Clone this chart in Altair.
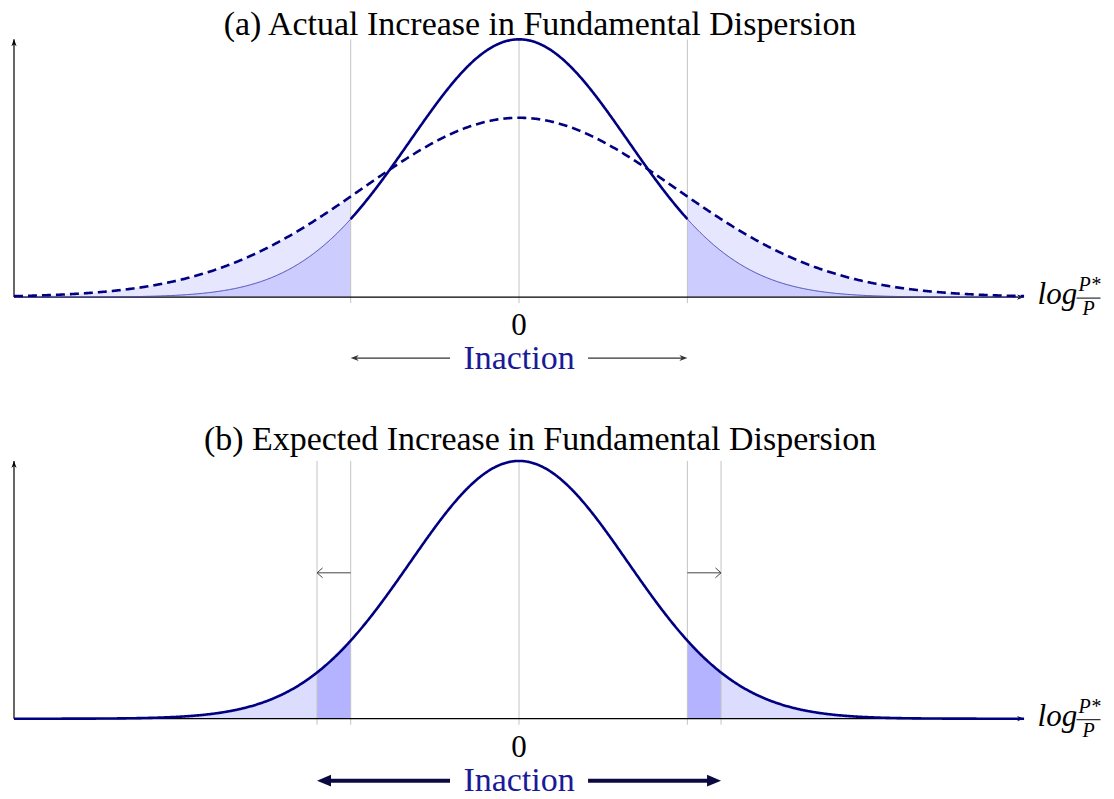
import altair as alt
import numpy as np
import pandas as pd

# ---------------- values ----------------
title_a = "(a) Actual Increase in Fundamental Dispersion"
title_b = "(b) Expected Increase in Fundamental Dispersion"
zero_label = "0"
inaction_label = "Inaction"
log_label = "log"
frac_top = "P*"
frac_bottom = "P"

x_range = [-3.0, 3.0]          # horizontal extent of the densities (band edge = 1)
sd_solid = 0.647               # narrow density (solid)
sd_dashed = 0.93               # wide density (dashed, panel a)
n_grid = 1201

band_a = [-1.0, 1.0]           # inaction band, panel (a)
band_b_old = [-1.0, 1.0]       # old band, panel (b)
band_b_new = [-1.2, 1.2]       # widened band, panel (b)
zero_line = [0.0]

inaction_start = [-0.41, 0.41]
inaction_end_a = [-1.0, 1.0]
inaction_end_b = [-1.2, 1.2]
shift_start_b = [-1.0, 1.0]
shift_end_b = [-1.2, 1.2]
shift_level_b = 0.566

# ---------------- layout ----------------
W = 1096
PXU = 168.5           # px per x unit
YU = 258.0            # px per y unit (solid peak = 1)
umin = x_range[0] - 3 / PXU
umax = umin + W / PXU
xscale = alt.Scale(domain=[umin, umax], nice=False, zero=False)

Ha, axis_a = 372, 288
Hb, axis_b = 411, 338
yscale_a = alt.Scale(domain=[(axis_a - Ha) / YU, axis_a / YU], nice=False, zero=False)
yscale_b = alt.Scale(domain=[(axis_b - Hb) / YU, axis_b / YU], nice=False, zero=False)

NAVY = "#000080"
SERIF = "Liberation Serif, Times New Roman, DejaVu Serif, serif"

xs = np.linspace(x_range[0], x_range[1], n_grid)
dens = pd.DataFrame({
    "x": xs,
    "solid": np.exp(-0.5 * (xs / sd_solid) ** 2),
    "dashed": (sd_solid / sd_dashed) * np.exp(-0.5 * (xs / sd_dashed) ** 2),
})
dens["base"] = 0.0
dens["side"] = np.where(dens.x < 0, "L", "R")
dens["ax"] = dens.x.abs().round(6)

RIGHT_STEALTH = "M0,0L-2,-0.75L-1.4,0L-2,0.75Z"
LEFT_STEALTH = "M0,0L2,-0.75L1.4,0L2,0.75Z"
UP_STEALTH = "M0,0L-0.75,2L0,1.4L0.75,2Z"
RIGHT_TRI = "M0,0L-2,-0.85L-2,0.85Z"
LEFT_TRI = "M0,0L2,-0.85L2,0.85Z"
RIGHT_CHEV = "M-1.6,-1.4L0,0L-1.6,1.4"
LEFT_CHEV = "M1.6,-1.4L0,0L1.6,1.4"


def X(f="x"):
    return alt.X(f"{f}:Q", scale=xscale, axis=None)


def Y(f, ys):
    return alt.Y(f"{f}:Q", scale=ys, axis=None, stack=None)


def ux(page_x):
    return (page_x - 517) / PXU


def area(df, field, color, ys):
    return alt.Chart(df).mark_area(color=color, opacity=1, interpolate="linear").encode(
        x=X(), y=Y(field, ys), y2=alt.Y2("base:Q"), detail="side:N")


def vrules(xlist, ys, top=1.0):
    df = pd.DataFrame({"x": xlist, "y0": -6 / YU, "y1": top})
    return alt.Chart(df).mark_rule(color="#c4c4c4", strokeWidth=1).encode(
        x=X(), y=Y("y0", ys), y2="y1:Q")


def axes(ys):
    h = pd.DataFrame({"x": [x_range[0]], "x2": [x_range[1] - 0.005], "y": [0.0]})
    v = pd.DataFrame({"x": [x_range[0]], "y": [0.0], "y2": [1.0]})
    hl = alt.Chart(h).mark_rule(color="black", strokeWidth=1.2).encode(
        x=X(), x2="x2:Q", y=Y("y", ys))
    vl = alt.Chart(v).mark_rule(color="black", strokeWidth=1.2).encode(
        x=X(), y=Y("y", ys), y2="y2:Q")
    hh = alt.Chart(pd.DataFrame({"x": [x_range[1]], "y": [0.0]})).mark_point(
        shape=RIGHT_STEALTH, filled=True, size=49, color="black", opacity=1).encode(x=X(), y=Y("y", ys))
    vh = alt.Chart(pd.DataFrame({"x": [x_range[0]], "y": [1.0]})).mark_point(
        shape=UP_STEALTH, filled=True, size=49, color="black", opacity=1).encode(x=X(), y=Y("y", ys))
    return [hl, vl, hh, vh]


def text(label, x, y, ys, size=34, color="black", italic=False, align="center"):
    df = pd.DataFrame({"x": [x], "y": [y], "t": [label]})
    return alt.Chart(df).mark_text(
        font=SERIF, fontSize=size, color=color, align=align, baseline="alphabetic",
        fontStyle="italic" if italic else "normal").encode(x=X(), y=Y("y", ys), text="t:N")


def log_fraction(ys):
    bar = pd.DataFrame({"x": [ux(1075)], "x2": [ux(1099)], "y": [-1 / YU]})
    return [
        text(log_label, ux(1036), -7 / YU, ys, size=31, italic=True, align="left"),
        text(frac_top, ux(1088), 6 / YU, ys, size=20, italic=True),
        alt.Chart(bar).mark_rule(color="black", strokeWidth=1).encode(x=X(), x2="x2:Q", y=Y("y", ys)),
        text(frac_bottom, ux(1087), -18 / YU, ys, size=20, italic=True),
    ]


def arrows(starts, ends, level, ys, color, width, size, lshape, rshape, back, filled=True):
    sgn = np.sign(np.array(ends) - np.array(starts))
    df = pd.DataFrame({"x": starts, "x2": list(np.array(ends) - sgn * back), "y": level})
    line = alt.Chart(df).mark_rule(color=color, strokeWidth=width).encode(x=X(), x2="x2:Q", y=Y("y", ys))
    heads = []
    for e, s in zip(ends, sgn):
        heads.append(alt.Chart(pd.DataFrame({"x": [e], "y": [level]})).mark_point(
            shape=rshape if s > 0 else lshape, filled=filled, size=size, color=color,
            strokeWidth=1, opacity=1).encode(x=X(), y=Y("y", ys)))
    return [line] + heads


# ---------------- panel (a) ----------------
tails_a = dens[dens.ax >= band_a[1]]
center_a = dens[dens.ax <= band_a[1]]
ya = yscale_a
panel_a = alt.layer(
    area(tails_a, "dashed", "#e6e6ff", ya),
    area(tails_a, "solid", "#ccccff", ya),
    vrules(band_a + zero_line, ya),
    *axes(ya),
    alt.Chart(tails_a).mark_line(color="#4848b4", strokeWidth=1).encode(x=X(), y=Y("solid", ya), detail="side:N"),
    alt.Chart(center_a).mark_line(color=NAVY, strokeWidth=2.6).encode(x=X(), y=Y("solid", ya)),
    alt.Chart(dens).mark_line(color=NAVY, strokeWidth=2.6, strokeDash=[9, 5]).encode(x=X(), y=Y("dashed", ya)),
    text(title_a, ux(538), (296 - 34) / YU, ya),
    text(zero_label, 0.0, -38 / YU, ya, size=31),
    text(inaction_label, 0.0, -72 / YU, ya, color="#1a1a99"),
    *arrows(inaction_start, inaction_end_a, -61 / YU, ya, "#333333", 1.2, 64,
            LEFT_STEALTH, RIGHT_STEALTH, 0.02),
    *log_fraction(ya),
).properties(width=W, height=Ha)

# ---------------- panel (b) ----------------
yb = yscale_b
outer_b = dens[dens.ax >= band_b_new[1]]
strip_b = dens[(dens.ax >= band_b_old[1]) & (dens.ax <= band_b_new[1])]
panel_b = alt.layer(
    area(outer_b, "solid", "#dcdcff", yb),
    area(strip_b, "solid", "#b3b3ff", yb),
    vrules(band_b_new + band_b_old + zero_line, yb),
    *axes(yb),
    alt.Chart(dens).mark_line(color=NAVY, strokeWidth=2.6).encode(x=X(), y=Y("solid", yb)),
    *arrows(shift_start_b, shift_end_b, shift_level_b, yb, "#444444", 1, 49,
            LEFT_CHEV, RIGHT_CHEV, 0.0, filled=False),
    text(title_b, ux(538), (718 - 449) / YU, yb),
    text(zero_label, 0.0, -38 / YU, yb, size=31),
    text(inaction_label, 0.0, -72 / YU, yb, color="#1a1a99"),
    *arrows(inaction_start, inaction_end_b, -62 / YU, yb, "#0a0a40", 4, 196,
            LEFT_TRI, RIGHT_TRI, 0.05),
    *log_fraction(yb),
).properties(width=W, height=Hb)

chart = alt.vconcat(panel_a, panel_b, spacing=0, bounds="flush").properties(
    padding={"top": -1, "left": 0, "right": 0, "bottom": 0}
).configure(background="white").configure_view(strokeWidth=0, stroke="transparent")

chart.save("out.html", embed_options={"renderer": "svg", "actions": False})
